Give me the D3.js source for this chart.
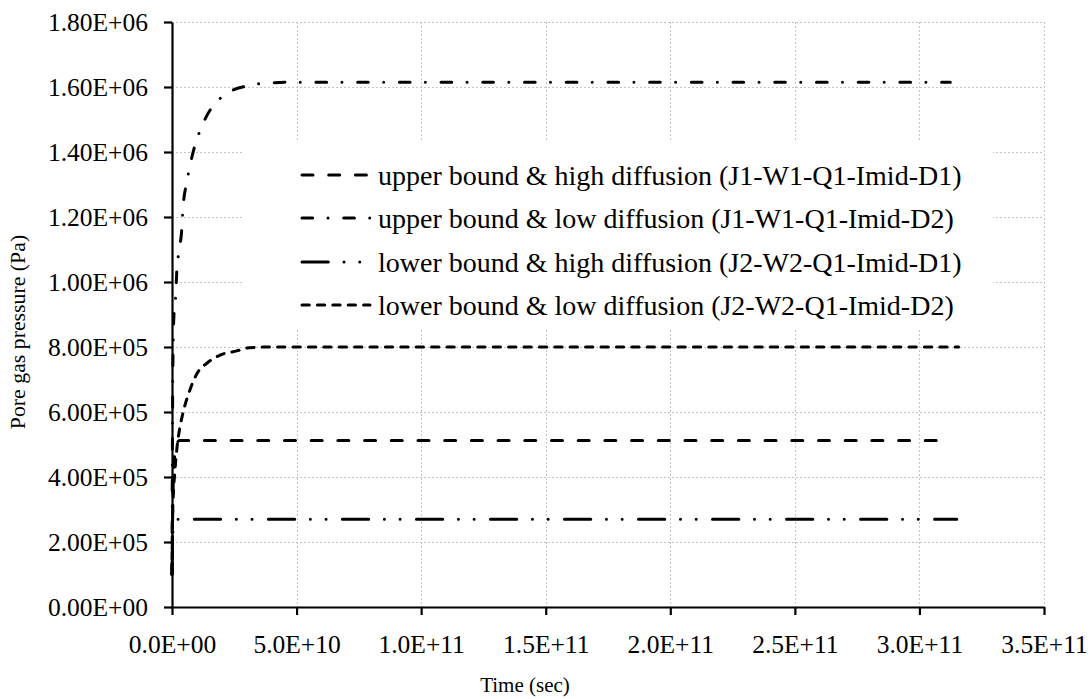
<!DOCTYPE html>
<html><head><meta charset="utf-8">
<script src="https://cdn.jsdelivr.net/npm/d3@7"></script>
<style>body{margin:0;background:#fff}svg{display:block}</style>
</head><body>
<svg id="chart" width="1092" height="699"></svg>
<script>
// ---- data ----
const seriesNames = [
  "upper bound & high diffusion (J1-W1-Q1-Imid-D1)",
  "upper bound & low diffusion (J1-W1-Q1-Imid-D2)",
  "lower bound & high diffusion (J2-W2-Q1-Imid-D1)",
  "lower bound & low diffusion (J2-W2-Q1-Imid-D2)"
];
const upperHighT = [0, 4e8, 1e9, 1.8e9, 3e9, 3.10e11];
const upperHighP = [1.0e5, 3.5e5, 4.6e5, 5.0e5, 5.12e5, 5.12e5];
const upperLowT = [0, 2e8, 5e8, 8e8, 1.5e9, 1.9e9, 2.8e9, 3.9e9, 4.4e9, 6e9, 8.4e9, 1.2e10, 1.53e10, 2.2e10, 3.0e10, 4.0e10, 5e10, 3.124e11];
const upperLowP = [1.0e5, 5.5e5, 8.3e5, 9.0e5, 9.6e5, 1.03e6, 1.095e6, 1.16e6, 1.225e6, 1.31e6, 1.397e6, 1.48e6, 1.529e6, 1.58e6, 1.603e6, 1.613e6, 1.615e6, 1.615e6];
const lowerHighT = [0, 3e8, 8e8, 2e9, 3.15e11];
const lowerHighP = [1.0e5, 2.2e5, 2.6e5, 2.7e5, 2.7e5];
const lowerLowT = [0, 3e8, 1.2e9, 2e9, 3.2e9, 4.4e9, 7.2e9, 1.04e10, 1.4e10, 1.93e10, 2.6e10, 3.1e10, 4.0e10, 3.157e11];
const lowerLowP = [1.0e5, 3.0e5, 4.2e5, 4.9e5, 5.54e5, 5.97e5, 6.68e5, 7.23e5, 7.5e5, 7.75e5, 7.88e5, 7.98e5, 8.0e5, 8.0e5];
const xTicks = [0, 5e10, 1e11, 1.5e11, 2e11, 2.5e11, 3e11, 3.5e11];
const xTickLabels = ["0.0E+00","5.0E+10","1.0E+11","1.5E+11","2.0E+11","2.5E+11","3.0E+11","3.5E+11"];
const yTicks = [0, 2e5, 4e5, 6e5, 8e5, 1e6, 1.2e6, 1.4e6, 1.6e6, 1.8e6];
const yTickLabels = ["0.00E+00","2.00E+05","4.00E+05","6.00E+05","8.00E+05","1.00E+06","1.20E+06","1.40E+06","1.60E+06","1.80E+06"];
const xTitle = "Time (sec)";
const yTitle = "Pore gas pressure (Pa)";

// ---- layout ----
const L = 172, R = 1044, T = 22, B = 607;
const svg = d3.select("#chart");
const font = "'Liberation Serif','Times New Roman',serif";
const x = d3.scaleLinear().domain([0, 3.5e11]).range([L, R]);
const y = d3.scaleLinear().domain([0, 1.8e6]).range([B, T]);

// gridlines
const grid = svg.append("g").attr("stroke", "#c4c4c4").attr("stroke-width", 1).attr("stroke-dasharray", "2,2");
xTicks.slice(1).forEach(v => grid.append("line").attr("x1", Math.round(x(v)) + 0.5).attr("x2", Math.round(x(v)) + 0.5).attr("y1", T).attr("y2", B));
yTicks.slice(1).forEach(v => grid.append("line").attr("x1", L).attr("x2", R).attr("y1", Math.round(y(v)) + 0.5).attr("y2", Math.round(y(v)) + 0.5));

// legend background
svg.append("rect").attr("x", 243).attr("y", 142).attr("width", 750).attr("height", 186).attr("fill", "#fff");

// series
const styles = [
  "11,15.7",
  "10.7,15.3,0.01,15.7",
  "26.3,15.7,0.01,15.7,0.01,16.3",
  "7.3,8.1"
];
const seriesData = [
  d3.zip(upperHighT, upperHighP),
  d3.zip(upperLowT, upperLowP),
  d3.zip(lowerHighT, lowerHighP),
  d3.zip(lowerLowT, lowerLowP)
];
const line = d3.line().x(d => x(d[0])).y(d => y(d[1])).curve(d3.curveMonotoneX);
seriesData.forEach((d, i) => {
  svg.append("path").attr("d", line(d)).attr("fill", "none").attr("stroke", "#000")
    .attr("stroke-width", 3).attr("stroke-linecap", "round").attr("stroke-dasharray", styles[i]);
});

// axes
const xAxis = d3.axisBottom(x).tickValues(xTicks).tickFormat((d, i) => xTickLabels[i]).tickSize(8).tickSizeOuter(0).tickPadding(20);
const gx = svg.append("g").attr("transform", `translate(0,${B})`).call(xAxis);
const yAxis = d3.axisLeft(y).tickValues(yTicks).tickFormat((d, i) => yTickLabels[i]).tickSize(8).tickSizeOuter(0).tickPadding(16);
const gy = svg.append("g").attr("transform", `translate(${L},0)`).call(yAxis);
[gx, gy].forEach(g => {
  g.attr("font-family", font);
  g.select(".domain").attr("stroke", "#000").attr("stroke-width", 2.2);
  g.selectAll(".tick line").attr("stroke", "#000").attr("stroke-width", 2.2);
  g.selectAll(".tick text").attr("fill", "#000").style("font-family", font).style("font-size", "25.5px");
});

// titles
svg.append("text").attr("x", 525).attr("y", 692).attr("text-anchor", "middle")
  .style("font-family", font).style("font-size", "21px").text(xTitle);
svg.append("text").attr("transform", "translate(25,332) rotate(-90)").attr("text-anchor", "middle")
  .style("font-family", font).style("font-size", "21.8px").text(yTitle);

// legend
const legY = [175, 218, 262, 305];
seriesNames.forEach((n, i) => {
  svg.append("line").attr("x1", 302).attr("x2", 370).attr("y1", legY[i]).attr("y2", legY[i])
    .attr("stroke", "#000").attr("stroke-width", 3).attr("stroke-linecap", "round").attr("stroke-dasharray", styles[i]);
  svg.append("text").attr("x", 378).attr("y", legY[i]).attr("dy", "0.35em")
    .style("font-family", font).style("font-size", "28px").text(n);
});
</script>
</body></html>
